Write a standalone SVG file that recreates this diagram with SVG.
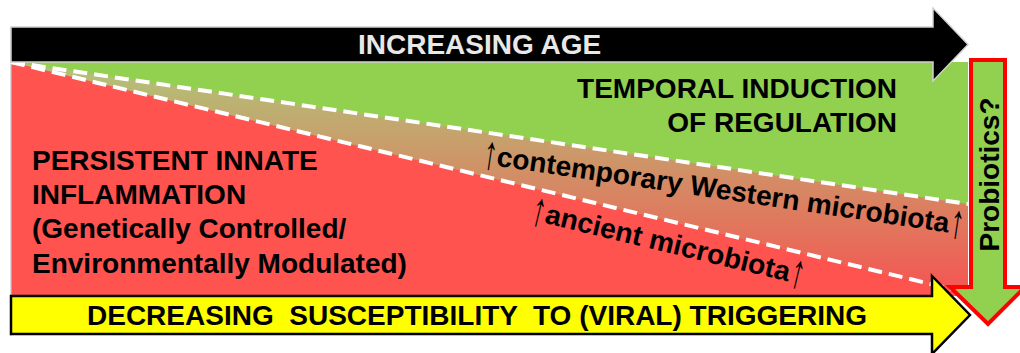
<svg xmlns="http://www.w3.org/2000/svg" width="1020" height="353" viewBox="0 0 1020 353">
  <style>
    .t { font-family: "Liberation Sans", Arial, sans-serif; font-weight: bold; font-size: 28px; fill: #000; }
    .arr { font-family: "Liberation Sans", Arial, sans-serif; font-weight: normal; font-size: 28px; fill: #000; }
    .dash { stroke: #fff; stroke-width: 4; stroke-dasharray: 14 7; fill: none; }
  </style>
  <defs>
    <linearGradient id="bandFill" gradientUnits="userSpaceOnUse" x1="0" y1="80" x2="0" y2="290">
      <stop offset="0" stop-color="#B5BD76"/>
      <stop offset="1" stop-color="#F55652"/>
    </linearGradient>
  </defs>

  <!-- background fields -->
  <g id="field-regulation">
    <rect x="11" y="62" width="957" height="234" fill="#92D050"/>
  </g>
  <g id="field-microbiota">
    <polygon points="11,62 968,204 968,293" fill="url(#bandFill)"/>
  </g>
  <g id="field-inflammation">
    <polygon points="11,62 968,293 968,296 11,296" fill="#FF5350"/>
  </g>
  <line x1="11" y1="27" x2="11" y2="336" stroke="#C4C4C4" stroke-width="1.2"/>

  <!-- dividing lines -->
  <g id="connectors">
    <line class="dash" x1="11" y1="62" x2="968" y2="204"/>
    <line class="dash" x1="11" y1="62" x2="968" y2="293"/>
  </g>

  <!-- age arrow -->
  <g id="node-age">
    <polygon points="11,27 933,27 933,8 968,44.5 933,81 933,62 11,62" fill="#000" stroke="#D0D0D0" stroke-width="1.5"/>
    <text class="t" x="358" y="54" style="fill:#E8E8E8">INCREASING AGE</text>
  </g>

  <!-- susceptibility arrow -->
  <g id="node-susceptibility">
    <polygon points="11,296 932,296 932,276 970,315 932,354 932,334 11,334" fill="#FFFF00" stroke="#000" stroke-width="2.5"/>
    <text class="t" x="87" y="325" xml:space="preserve">DECREASING  SUSCEPTIBILITY  TO (VIRAL) TRIGGERING</text>
  </g>

  <!-- probiotics arrow -->
  <g id="node-probiotics">
    <polygon points="971,60 1005,60 1005,287 1025,287 988,324 950,287 971,287" fill="#92D050" stroke="#FF0000" stroke-width="4"/>
    <text class="t" transform="translate(999,174.5) rotate(-90)" text-anchor="middle">Probiotics?</text>
  </g>

  <!-- regulation label -->
  <g id="node-regulation">
    <text class="t" x="897" y="98" text-anchor="end">TEMPORAL INDUCTION</text>
    <text class="t" x="897" y="132" text-anchor="end">OF REGULATION</text>
  </g>

  <!-- inflammation label -->
  <g id="node-inflammation">
    <text class="t" x="32" y="169.5">PERSISTENT INNATE</text>
    <text class="t" x="32" y="204">INFLAMMATION</text>
    <text class="t" x="32" y="238">(Genetically Controlled/</text>
    <text class="t" x="32" y="272.5">Environmentally Modulated)</text>
  </g>

  <!-- microbiota labels: tall thin arrows either side of the bold words -->
  <g id="node-contemporary" transform="translate(484,164) rotate(8.4)">
    <text class="arr" transform="translate(-2,4) scale(1,1.7)">↑</text>
    <text class="t" x="12" textLength="457" lengthAdjust="spacingAndGlyphs">contemporary Western microbiota</text>
    <text class="arr" transform="translate(470,4) scale(1,1.7)">↑</text>
  </g>
  <g id="node-ancient" transform="translate(532,220) rotate(13.5)">
    <text class="arr" transform="translate(-2,4) scale(1,1.7)">↑</text>
    <text class="t" x="12" textLength="251" lengthAdjust="spacingAndGlyphs">ancient microbiota</text>
    <text class="arr" transform="translate(264,4) scale(1,1.7)">↑</text>
  </g>
</svg>
